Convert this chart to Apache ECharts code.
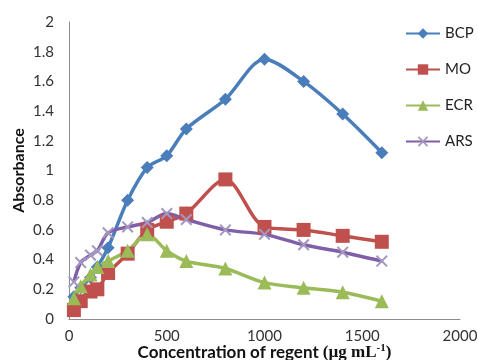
<!DOCTYPE html>
<html>
<head>
<meta charset="utf-8">
<script src="https://cdn.jsdelivr.net/npm/echarts@6/dist/echarts.min.js"></script>
<style>
  html, body { margin: 0; padding: 0; background: #fff; }
  #chart { width: 478px; height: 360px; }
</style>
</head>
<body>
<div id="chart"></div>
<script>
// Regent concentration (µg mL-1) shared by every series
const conc = [25, 60, 110, 145, 200, 300, 400, 500, 600, 800, 1000, 1200, 1400, 1600];

// Absorbance readings per dye
const bcp = [0.15, 0.21, 0.28, 0.35, 0.48, 0.80, 1.02, 1.10, 1.28, 1.48, 1.75, 1.60, 1.38, 1.12];
const mo  = [0.06, 0.12, 0.185, 0.20, 0.31, 0.44, 0.60, 0.655, 0.71, 0.94, 0.62, 0.60, 0.56, 0.52];
const ecr = [0.14, 0.22, 0.30, 0.35, 0.39, 0.46, 0.57, 0.46, 0.39, 0.34, 0.245, 0.21, 0.18, 0.12];
const ars = [0.25, 0.38, 0.43, 0.46, 0.58, 0.62, 0.65, 0.71, 0.67, 0.60, 0.57, 0.50, 0.45, 0.39];

const seriesNames = ['BCP', 'MO', 'ECR', 'ARS'];

const sansFont = 'Lato';
const pair = vals => conc.map((c, i) => [c, vals[i]]);
const crossPath = 'path://M0,1.2 L1.2,0 L5,3.8 L8.8,0 L10,1.2 L6.2,5 L10,8.8 L8.8,10 L5,6.2 L1.2,10 L0,8.8 L3.8,5 Z';

const chart = echarts.init(document.getElementById('chart'), null, { renderer: 'canvas' });

function lineSeries(name, vals, color, symbol, size, symColor) {
  return {
    name: name,
    type: 'line',
    data: pair(vals),
    smooth: 0.3,
    symbol: symbol,
    symbolSize: size,
    showSymbol: true,
    lineStyle: { color: color, width: 3.5 },
    itemStyle: { color: symColor || color },
    emphasis: { disabled: true }
  };
}

chart.setOption({
  animation: false,
  backgroundColor: '#ffffff',
  grid: { left: 69, right: 18, top: 22, bottom: 41, outerBoundsMode: 'none', containLabel: false },
  legend: {
    orient: 'vertical',
    left: 400,
    top: 21,
    itemWidth: 34,
    itemHeight: 13,
    itemGap: 21,
    data: seriesNames,
    textStyle: { fontFamily: sansFont, fontSize: 15, color: '#222' }
  },
  xAxis: {
    type: 'value',
    min: 0,
    max: 2000,
    interval: 500,
    splitLine: { show: false },
    axisTick: { show: false },
    axisLine: { lineStyle: { color: '#8c8c8c', width: 1 } },
    axisLabel: { fontFamily: sansFont, fontSize: 15, color: '#333', margin: 10, formatter: v => String(v) },
    name: '{a|Concentration of regent }{b|(µg mL}{s|-1}{b|)}',
    nameLocation: 'middle',
    nameGap: 24,
    nameMoveOverlap: false,
    nameTextStyle: {
      verticalAlign: 'top',
      rich: {
        a: { fontFamily: sansFont, fontWeight: 'bold', fontSize: 17, color: '#111' },
        b: { fontFamily: 'Liberation Serif', fontWeight: 'bold', fontSize: 17, color: '#111' },
        s: { fontFamily: 'Liberation Serif', fontWeight: 'bold', fontSize: 11, color: '#111', verticalAlign: 'top', padding: [0, 0, 8, 0] }
      }
    }
  },
  yAxis: {
    type: 'value',
    min: 0,
    max: 2,
    interval: 0.2,
    splitLine: { show: false },
    axisTick: { show: false },
    axisLine: { show: true, lineStyle: { color: '#8c8c8c', width: 1 } },
    axisLabel: { fontFamily: sansFont, fontSize: 15, color: '#333', margin: 15 },
    name: 'Absorbance',
    nameLocation: 'middle',
    nameRotate: 90,
    nameGap: 42,
    nameMoveOverlap: false,
    nameTextStyle: { fontFamily: sansFont, fontWeight: 'bold', fontSize: 16, color: '#111' }
  },
  series: [
    lineSeries('BCP', bcp, '#4a7ebb', 'diamond', 13),
    lineSeries('MO', mo, '#c0504d', 'rect', 14),
    lineSeries('ECR', ecr, '#9bbb59', 'triangle', 14),
    lineSeries('ARS', ars, '#7f5fa8', crossPath, 12, '#a497c0')
  ]
});
</script>
</body>
</html>
